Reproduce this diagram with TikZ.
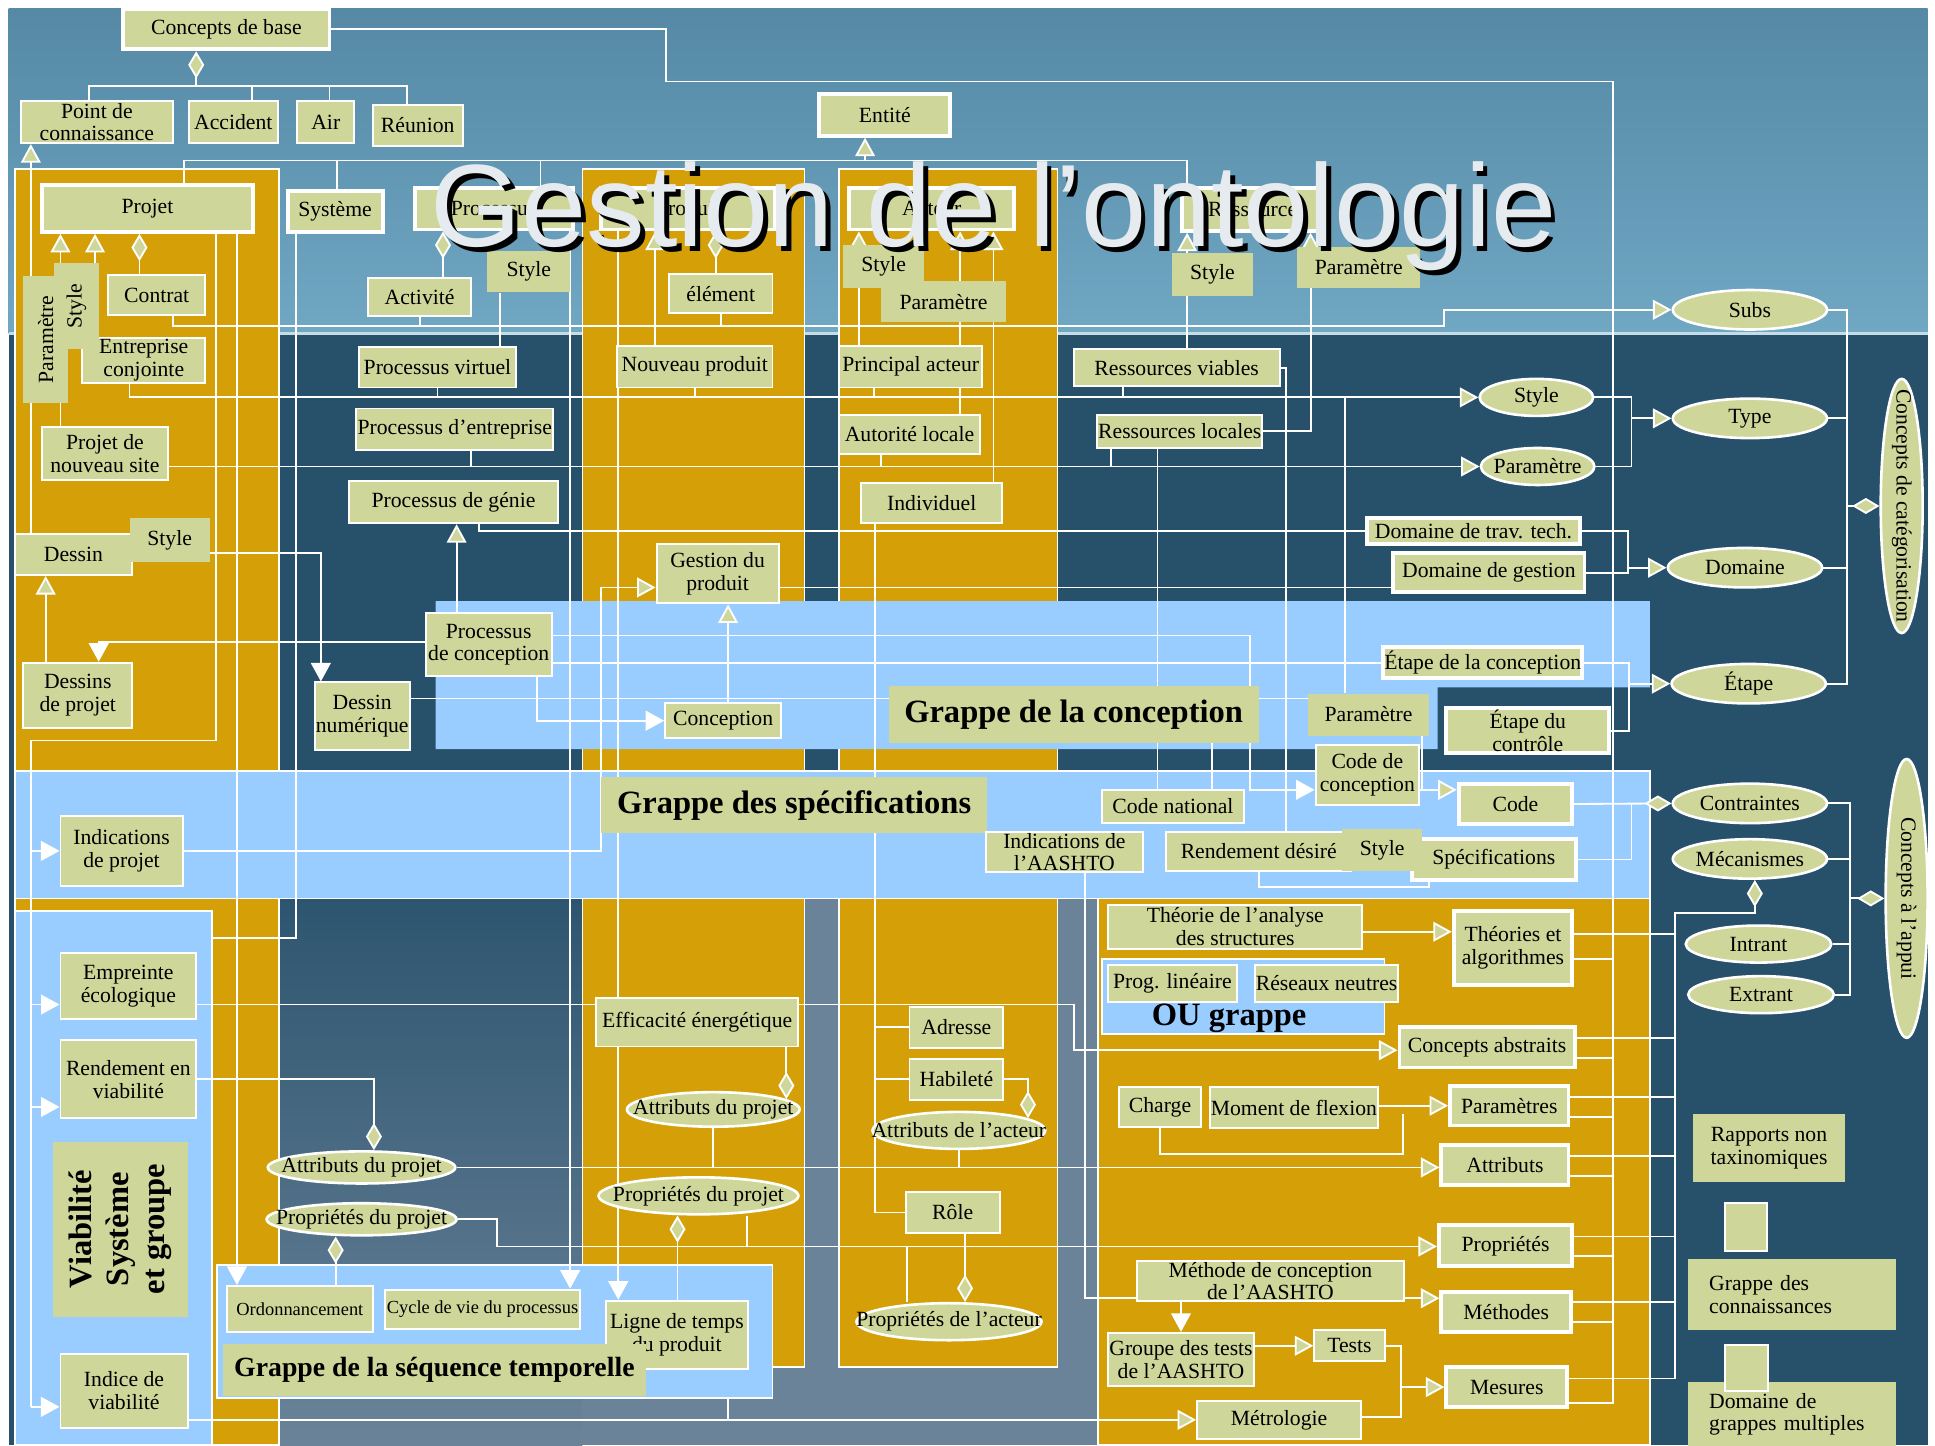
\documentclass[tikz,border=0pt]{standalone}
\usepackage{fontspec}
\setmainfont{Liberation Serif}
\newfontfamily\titlefont{Liberation Sans}
\usetikzlibrary{shapes.geometric, arrows.meta, positioning}

\definecolor{khaki}{HTML}{CFD699}
\definecolor{gold}{HTML}{D59F08}
\definecolor{lblue}{HTML}{99CCFF}
\definecolor{navy}{HTML}{27506B}
\definecolor{skytop}{HTML}{5589A6}
\definecolor{skybot}{HTML}{70A7C3}
\definecolor{steel}{HTML}{6A8399}
\definecolor{titlecol}{HTML}{E6EBEF}

\newcommand\grpfont{\fontsize{15}{17}\selectfont\bfseries}
\newcommand\seqfont{\fontsize{12.8}{15}\selectfont\bfseries}
\newcommand\ordfont{\fontsize{8.5}{9.5}\selectfont}

\pgfdeclarelayer{bg}
\pgfdeclarelayer{wires}
\pgfsetlayers{bg,wires,main}

\begin{document}
\begin{tikzpicture}[
  x=0.02cm, y=-0.02cm,
  every node/.style={font=\fontsize{10}{10.5}\selectfont, inner sep=0.5pt, align=center},
  kbox/.style={rectangle, draw=white, line width=0.9pt, fill=khaki, text=black},
  kboxw/.style={kbox, line width=1.8pt},
  kpatch/.style={rectangle, fill=khaki, text=black},
  kell/.style={ellipse, draw=white, line width=1.2pt, fill=khaki, text=black,
               inner xsep=-14pt, inner ysep=0pt},
  zone/.style={rectangle, draw=white, line width=0.8pt, fill=lblue, inner sep=0pt},
  ln/.style={draw=white, line width=0.85pt},
  inh/.style={ln, -{Triangle[length=3mm, width=3.2mm, fill=khaki]}},
  flow/.style={ln, -{Triangle[length=3mm, width=3.2mm]}},
  agg/.style={ln, {Diamond[length=4.4mm, width=2.6mm, fill=khaki]}-}
]
\useasboundingbox (0,0) rectangle (1568,1171);

% background and clusters
\begin{pgfonlayer}{bg}
\fill[white] (0,0) rectangle (1568,1171);
\shade[top color=skytop, bottom color=skybot] (7,7) rectangle (1562,270);
\fill[navy] (7,270) rectangle (1562,1171);
\draw[white!60!skybot, line width=1.2pt] (7,270) -- (1562,270);
\shade[top color=navy!90!steel, bottom color=steel] (226,728) rectangle (472,1171);
\fill[steel] (472,728) rectangle (890,1171);
\draw[white, line width=0.8pt, fill=gold] (12,137) rectangle (226,1171);
\draw[white, line width=0.8pt, fill=gold] (472,137) rectangle (652,1108);
\draw[white, line width=0.8pt, fill=gold] (680,137) rectangle (857,1108);
\draw[white, line width=0.8pt, fill=gold] (890,728) rectangle (1337,1171);
\fill[lblue] (353,487) -- (1337,487) -- (1337,557) -- (1165,557)
  -- (1165,607) -- (353,607) -- cycle;
\node[zone, minimum width=26.5cm, minimum height=2.06cm] (gspec) at (674.5,676.5) {};
\node[zone, minimum width=3.2cm, minimum height=8.66cm] (vbox) at (92,954.5) {};
\node[zone, minimum width=9cm, minimum height=2.16cm] (gseqbox) at (401,1079) {};
\node[zone, minimum width=4.58cm, minimum height=1.22cm] (oubox) at (1007.5,807.5) {};
\end{pgfonlayer}

% base concepts
\node[kboxw, minimum width=3.34cm, minimum height=0.66cm] (base) at (183.5,23.5) {Concepts de base};
\node[kbox, minimum width=2.46cm, minimum height=0.68cm] (pconn) at (78.5,99) {Point de\\connaissance};
\node[kbox, minimum width=1.44cm, minimum height=0.68cm] (accid) at (189,99) {Accident};
\node[kbox, minimum width=0.92cm, minimum height=0.68cm] (air) at (264,99) {Air};
\node[kbox, minimum width=1.46cm, minimum height=0.66cm] (reun) at (338.5,101.5) {Réunion};
\node[kboxw, minimum width=2.12cm, minimum height=0.68cm] (entite) at (717,93) {Entité};

% entities
\node[kboxw, minimum width=3.42cm, minimum height=0.76cm] (projet) at (119.5,169) {Projet};
\node[kboxw, minimum width=1.54cm, minimum height=0.66cm] (systeme) at (271.5,171.5) {Système};
\node[kboxw, minimum width=2.56cm, minimum height=0.68cm] (processus) at (400,169) {Processus};
\node[kboxw, minimum width=2.82cm, minimum height=0.68cm] (produit) at (557.5,169) {Produit};
\node[kboxw, minimum width=2.68cm, minimum height=0.68cm] (acteur) at (755,169) {Acteur};
\node[kboxw, minimum width=2.28cm, minimum height=0.70cm] (ressource) at (1015,169.5) {Ressource};

% projet column
\node[kbox, minimum width=1.58cm, minimum height=0.66cm] (contrat) at (127,239) {Contrat};
\node[kbox, minimum width=2.0cm, minimum height=0.74cm] (entconj) at (116.5,292) {Entreprise\\conjointe};
\node[kpatch, rotate=90, minimum width=2.06cm, minimum height=0.74cm] (pparam) at (37,275) {Paramètre};
\node[kpatch, rotate=90, minimum width=1.38cm, minimum height=0.74cm] (pstyle) at (62,248) {Style};
\node[kbox, minimum width=2.04cm, minimum height=0.86cm] (pnsite) at (85,367.5) {Projet de\\nouveau site};
\node[kbox, minimum width=1.9cm, minimum height=0.66cm] (dessin) at (59.5,449.5) {Dessin};
\node[kpatch, minimum width=1.3cm, minimum height=0.7cm] (dstyle) at (137.5,437.5) {Style};
\node[kbox, minimum width=1.76cm, minimum height=1.06cm] (dessproj) at (63,563.5) {Dessins\\de projet};

% processus column
\node[kbox, minimum width=1.68cm, minimum height=0.62cm] (activite) at (340,240.5) {Activité};
\node[kpatch, minimum width=1.34cm, minimum height=0.68cm] (prstyle) at (428.5,220) {Style};
\node[kbox, minimum width=2.54cm, minimum height=0.66cm] (pvirt) at (354.5,297.5) {Processus virtuel};
\node[kbox, minimum width=3.14cm, minimum height=0.68cm] (pentr) at (368.5,348) {Processus d’entreprise};
\node[kbox, minimum width=3.38cm, minimum height=0.68cm] (pgenie) at (367.5,407) {Processus de génie};
\node[kbox, minimum width=2.04cm, minimum height=1.02cm] (pconc) at (396,522.5) {Processus\\de conception};
\node[kbox, minimum width=1.54cm, minimum height=1.1cm] (dnum) at (293.5,580.5) {Dessin\\numérique};

% produit column
\node[kbox, minimum width=1.68cm, minimum height=0.64cm] (element) at (584,238) {élément};
\node[kbox, minimum width=2.52cm, minimum height=0.68cm] (nouvprod) at (563,297) {Nouveau produit};
\node[kbox, minimum width=1.98cm, minimum height=0.96cm] (gestprod) at (581.5,465) {Gestion du\\produit};
\node[kbox, minimum width=1.88cm, minimum height=0.56cm] (conception) at (586,584) {Conception};

% acteur column
\node[kpatch, minimum width=1.3cm, minimum height=0.7cm] (astyle) at (716,216) {Style};
\node[kpatch, minimum width=2.02cm, minimum height=0.66cm] (aparam) at (764.5,244.5) {Paramètre};
\node[kbox, minimum width=2.32cm, minimum height=0.68cm] (principal) at (738,297) {Principal acteur};
\node[kbox, minimum width=2.28cm, minimum height=0.64cm] (autorite) at (737,352) {Autorité locale};
\node[kbox, minimum width=2.28cm, minimum height=0.66cm] (individuel) at (755,407.5) {Individuel};

% ressource column
\node[kpatch, minimum width=1.3cm, minimum height=0.7cm] (rstyle) at (982.5,222.5) {Style};
\node[kpatch, minimum width=2.0cm, minimum height=0.66cm] (rparam) at (1101,216.5) {Paramètre};
\node[kbox, minimum width=3.34cm, minimum height=0.6cm] (rviables) at (953.5,298) {Ressources viables};
\node[kbox, minimum width=2.62cm, minimum height=0.54cm] (rlocales) at (956,349.5) {Ressources locales};

% conception cluster
\node[kpatch, font=\grpfont, minimum width=6.0cm, minimum height=0.92cm] (gconc) at (870,579) {Grappe de la conception};
\node[kboxw, minimum width=3.44cm, minimum height=0.42cm] (dtrav) at (1194,430) {Domaine de trav. tech.};
\node[kboxw, minimum width=3.1cm, minimum height=0.64cm] (dgest) at (1206.5,464) {Domaine de gestion};
\node[kboxw, minimum width=3.22cm, minimum height=0.5cm] (etconc) at (1201.5,537) {Étape de la conception};
\node[kpatch, minimum width=1.96cm, minimum height=0.68cm] (cparam) at (1109,579) {Paramètre};
\node[kboxw, minimum width=2.64cm, minimum height=0.72cm] (etctrl) at (1238,592) {Étape du\\contrôle};
\node[kbox, minimum width=1.68cm, minimum height=0.96cm] (codeconc) at (1108,628) {Code de\\conception};

% specifications cluster
\node[kpatch, font=\grpfont, minimum width=6.26cm, minimum height=0.9cm] (gspecl) at (643.5,652.5) {Grappe des spécifications};
\node[kbox, minimum width=2.3cm, minimum height=0.54cm] (codenat) at (950.5,653.5) {Code national};
\node[kboxw, minimum width=1.84cm, minimum height=0.66cm] (code) at (1228,651.5) {Code};
\node[kbox, minimum width=2.54cm, minimum height=0.62cm] (indaash) at (862.5,690.5) {Indications de\\l’AASHTO};
\node[kboxw, minimum width=2.66cm, minimum height=0.66cm] (specs) at (1210.5,696.5) {Spécifications};
\node[kbox, minimum width=3.0cm, minimum height=0.64cm] (rendes) at (1020,690) {Rendement désiré};
\node[kpatch, minimum width=1.3cm, minimum height=0.68cm] (sstyle) at (1120,689) {Style};
\node[kbox, minimum width=1.98cm, minimum height=1.14cm] (indproj) at (98.5,689.5) {Indications\\de projet};

% categories
\node[kell, minimum width=2.5cm, minimum height=0.64cm] (esubs) at (1418,251) {Subs};
\node[kell, minimum width=1.84cm, minimum height=0.6cm] (estyle) at (1245,322) {Style};
\node[kell, minimum width=2.5cm, minimum height=0.64cm] (etype) at (1418,339) {Type};
\node[kell, minimum width=1.84cm, minimum height=0.6cm] (eparam) at (1246,378) {Paramètre};
\node[kell, minimum width=2.5cm, minimum height=0.64cm] (edomaine) at (1414,460) {Domaine};
\node[kell, minimum width=2.5cm, minimum height=0.64cm] (eetape) at (1417,554) {Étape};
\node[kell, minimum width=2.5cm, minimum height=0.64cm] (econtr) at (1418,651) {Contraintes};
\node[kell, minimum width=2.5cm, minimum height=0.64cm] (emeca) at (1418,696) {Mécanismes};
\node[kell, minimum width=2.36cm, minimum height=0.6cm] (eintr) at (1425,765) {Intrant};
\node[kell, minimum width=2.36cm, minimum height=0.6cm] (eextr) at (1427,806) {Extrant};
\node[kell, rotate=-90, inner xsep=-20pt, minimum width=4.12cm, minimum height=0.68cm] (ecateg) at (1541,410) {Concepts de catégorisation};
\node[kell, rotate=-90, inner xsep=-20pt, minimum width=4.52cm, minimum height=0.68cm] (eappui) at (1545,728) {Concepts à l’appui};

% viabilite cluster
\node[kbox, minimum width=2.2cm, minimum height=1.08cm] (empreinte) at (104,799) {Empreinte\\écologique};
\node[kbox, minimum width=2.2cm, minimum height=1.26cm] (rendvia) at (104,874.5) {Rendement en\\viabilité};
\node[kpatch, font=\grpfont, rotate=90, minimum width=2.84cm, minimum height=2.18cm] (viab) at (97.5,996) {Viabilité\\Système\\et groupe};
\node[kbox, minimum width=2.06cm, minimum height=1.2cm] (indvia) at (100.5,1127) {Indice de\\viabilité};

% temporal sequence
\node[kell, minimum width=3.04cm, minimum height=0.52cm] (attproj) at (293,946) {Attributs du projet};
\node[kell, minimum width=3.08cm, minimum height=0.52cm] (propproj) at (293,988) {Propriétés du projet};
\node[kbox, font=\ordfont, minimum width=2.36cm, minimum height=0.74cm] (ordon) at (243,1060.5) {Ordonnancement};
\node[kbox, font=\ordfont, minimum width=3.16cm, minimum height=0.64cm] (cycle) at (391,1061) {Cycle de vie du processus};
\node[kbox, minimum width=2.3cm, minimum height=1.1cm] (ligne) at (548.5,1081.5) {Ligne de temps\\du produit};
\node[kpatch, font=\seqfont, minimum width=6.86cm, minimum height=0.84cm] (gseql) at (352,1110) {Grappe de la séquence temporelle};
\node[kbox, minimum width=3.28cm, minimum height=0.78cm] (effic) at (565,828.5) {Efficacité énergétique};
\node[kell, minimum width=2.8cm, minimum height=0.56cm] (attproj2) at (578,899) {Attributs du projet};
\node[kell, minimum width=3.24cm, minimum height=0.6cm] (propproj2) at (566,969) {Propriétés du projet};
\node[kbox, minimum width=1.52cm, minimum height=0.66cm] (adresse) at (775,832.5) {Adresse};
\node[kbox, minimum width=1.52cm, minimum height=0.66cm] (habilete) at (775,874.5) {Habileté};
\node[kell, minimum width=2.8cm, minimum height=0.6cm] (attact) at (777,916) {Attributs de l’acteur};
\node[kbox, minimum width=1.52cm, minimum height=0.66cm] (role) at (772,982.5) {Rôle};
\node[kell, minimum width=3.0cm, minimum height=0.6cm] (propact) at (769,1071) {Propriétés de l’acteur};

% knowledge cluster
\node[kbox, minimum width=4.12cm, minimum height=0.72cm] (theorie) at (1001,751) {Théorie de l’analyse\\des structures};
\node[kboxw, minimum width=1.92cm, minimum height=1.2cm] (theoalg) at (1226,768) {Théories et\\algorithmes};
\node[kbox, minimum width=2.08cm, minimum height=0.6cm] (proglin) at (950,797) {Prog. linéaire};
\node[kbox, minimum width=2.32cm, minimum height=0.6cm] (reseaux) at (1075,797) {Réseaux neutres};
\node[font=\grpfont, text=black] (ougr) at (996,825) {OU grappe};
\node[kboxw, minimum width=2.84cm, minimum height=0.66cm] (concabs) at (1205,848.5) {Concepts abstraits};
\node[kbox, minimum width=1.32cm, minimum height=0.64cm] (charge) at (940,897) {Charge};
\node[kbox, minimum width=2.7cm, minimum height=0.66cm] (moment) at (1048.5,897.5) {Moment de flexion};
\node[kboxw, minimum width=1.92cm, minimum height=0.64cm] (params) at (1223,896) {Paramètres};
\node[kboxw, minimum width=2.06cm, minimum height=0.64cm] (attribs) at (1219.5,944) {Attributs};
\node[kboxw, minimum width=2.16cm, minimum height=0.66cm] (props) at (1220,1009.5) {Propriétés};
\node[kbox, minimum width=4.34cm, minimum height=0.64cm] (methconc) at (1029.5,1038) {Méthode de conception\\de l’AASHTO};
\node[kboxw, minimum width=2.1cm, minimum height=0.64cm] (methodes) at (1220.5,1063) {Méthodes};
\node[kbox, minimum width=2.36cm, minimum height=0.86cm] (gtests) at (957,1101.5) {Groupe des tests\\de l’AASHTO};
\node[kbox, minimum width=1.14cm, minimum height=0.5cm] (tests) at (1093.5,1090.5) {Tests};
\node[kboxw, minimum width=1.96cm, minimum height=0.64cm] (mesures) at (1221,1124) {Mesures};
\node[kbox, minimum width=2.66cm, minimum height=0.62cm] (metro) at (1036.5,1150.5) {Métrologie};

% legend
\node[kpatch, minimum width=2.46cm, minimum height=1.1cm] (rapports) at (1433.5,930.5) {Rapports non\\taxinomiques};
\node[kbox, minimum width=0.68cm, minimum height=0.78cm] (carre1) at (1415,994.5) {};
\node[kpatch, text width=2.68cm, align=left, inner xsep=0.34cm, minimum height=1.16cm] (grcon) at (1452,1049) {Grappe des\\connaissances};
\node[kpatch, text width=2.68cm, align=left, inner xsep=0.34cm, minimum height=1.04cm] (grmult) at (1452,1146) {Domaine de\\grappes multiples};
\node[kbox, minimum width=0.7cm, minimum height=0.74cm] (carre2) at (1415.5,1108.5) {};

\begin{pgfonlayer}{wires}
% concepts de base
\draw[agg] (base.south -| 159,0) -- (159,70);
\draw[ln] (pconn.north -| 72,0) -- (72,70) -- (330,70) -- (reun.north -| 330,0);
\draw[ln] (accid.north -| 204,0) -- (204,70);
\draw[ln] (air.north -| 267,0) -- (267,70);
\draw[ln] (base.east) -| (540,66) -| (1307,1137) -- (mesures.east |- 0,1137);
% entite
\coordinate (entbus) at (701,130);
\draw[ln] (projet.north -| 149,0) -- (149,130) -- (962,130) -- (ressource.north -| 962,0);
\draw[ln] (systeme.north -| 273,0) -- (273,130);
\draw[ln] (processus.north -| 438,0) -- (438,130);
\draw[inh] (entbus) -- (entite.south -| entbus);
% projet
\draw[inh] (dessin.north -| 25,0) -- (pconn.south -| 25,0);
\draw[inh] (pnsite.north -| 49,0) -- (projet.south -| 49,0);
\draw[inh] (entconj.north -| 77,0) -- (projet.south -| 77,0);
\draw[agg] (projet.south -| 113,0) -- (contrat.north -| 113,0);
\draw[inh] (dessproj.north -| 37,0) -- (dessin.south -| 37,0);
\draw[flow] (projet.south -| 192,0) -- (ordon.north -| 192,0);
\coordinate (lbus) at (25,600);
\draw[ln] (projet.south -| 175,0) -- (175,600) -- (lbus) -- (25,1140);
\draw[flow] (lbus |- indproj.west) -- (indproj.west);
\draw[flow] (lbus |- 0,814) -- (empreinte.west |- 0,814);
\draw[flow] (lbus |- 0,897) -- (rendvia.west |- 0,897);
\draw[flow] (lbus |- 0,1140) -- (indvia.west |- 0,1140);
\draw[flow] (pconc.west |- 0,520) -| (dessproj.north -| 80,0);
\draw[flow] (dstyle.east |- 0,448) -| (dnum.north -| 260,0);
% processus
\draw[agg] (processus.south -| 359,0) -- (activite.north -| 359,0);
\draw[ln] (prstyle.south -| 405,0) -- (pvirt.north -| 405,0);
\draw[flow] (processus.south -| 462,0) -- (cycle.north -| 462,0);
\draw[inh] (pconc.north -| 370,0) -- (pgenie.south -| 370,0);
\draw[flow] (pconc.south -| 435,0) |- (conception.west);
\draw[inh] (conception.north -| 590,0) -- (gestprod.south -| 590,0);
\draw[flow] (pconc.east |- 0,515) -| (1013,640) -- (codeconc.west |- 0,640);
\draw[ln] (pconc.east |- 0,537) -- (etconc.west);
\draw[ln] (dnum.east |- 0,566) -- (cparam.west |- 0,566);
\draw[ln] (pgenie.south -| 388,0) |- (dtrav.west);
\draw[ln] (gestprod.east |- 0,476) -- (dgest.west |- 0,476);
% subs, style, parametre
\draw[inh] (contrat.south -| 140,0) -- (140,264) -| (1170,251) -- (esubs.west);
\draw[ln] (activite.south) -- (activite.south |- 0,264);
\draw[ln] (element.south) -- (element.south |- 0,264);
\draw[inh] (entconj.south -| 105,0) |- (estyle.west);
\draw[ln] (pvirt.south) -- (pvirt.south |- estyle.west);
\draw[ln] (nouvprod.south) -- (nouvprod.south |- estyle.west);
\draw[ln] (principal.south -| 708,0) -- (708,322);
\draw[ln] (rviables.south -| 910,0) -- (910,322);
\draw[inh] (pnsite.east |- eparam.west) -- (eparam.west);
\draw[ln] (pentr.south -| 382,0) -- (382,378);
\draw[ln] (autorite.south -| 714,0) -- (714,378);
\draw[ln] (rlocales.south -| 900,0) -- (900,378);
% produit
\draw[inh] (nouvprod.north -| 531,0) -- (produit.south -| 531,0);
\draw[agg] (produit.south -| 580,0) -- (element.north -| 580,0);
\draw[flow] (produit.south -| 501,0) -- (ligne.north -| 501,0);
\draw[inh] (indproj.east) -| (487,476) -- (gestprod.west |- 0,476);
% acteur
\draw[inh] (principal.north -| 696,0) -- (acteur.south -| 696,0);
\draw[inh] (autorite.north -| 778,0) -- (acteur.south -| 778,0);
\draw[inh] (individuel.north -| 805,0) -- (acteur.south -| 805,0);
\draw[ln] (individuel.south -| 709,0) |- (role.west);
\draw[ln] (individuel.south -| 709,0) |- (adresse.west);
\draw[ln] (individuel.south -| 709,0) |- (habilete.west);
\draw[agg] (attact.10) |- (habilete.east);
\draw[ln] (attact.south) -- (attact.south |- attproj.east);
\draw[agg] (propact.north -| 782,0) -- (role.south -| 782,0);
\draw[ln] (propact.north -| 735,0) -- (735,1010);
% ressource
\draw[inh] (rviables.north -| 962,0) -- (ressource.south -| 962,0);
\draw[inh] (rlocales.east) -| (ressource.south -| 1062,0);
\draw[ln] (rlocales.south -| 938,0) -- (codenat.north -| 938,0);
\draw[ln] (gconc.south -| 982,0) -- (codenat.north -| 982,0);
\draw[ln] (rviables.east) -| (rendes.north -| 1042,0);
\draw[ln] (cparam.north -| 1090,0) -- (1090,322);
% categories
\coordinate (dombus) at (1319,460);
\coordinate (etbus) at (1320,554);
\coordinate (tybus) at (1322,339);
\draw[ln] (dtrav.east) -| (1319,464) -- (dgest.east);
\draw[inh] (dombus) -- (edomaine.west);
\draw[ln] (etconc.east) -| (1320,592) -- (etctrl.east);
\draw[inh] (etbus) -- (eetape.west);
\draw[ln] (estyle.east) -| (1322,378) -- (eparam.east);
\draw[inh] (tybus) -- (etype.west);
\draw[ln] (esubs.east) -| (1497,554) -- (eetape.east);
\draw[ln] (etype.east) -- (etype.east -| 1497,0);
\draw[ln] (edomaine.east) -- (edomaine.east -| 1497,0);
\draw[agg] (ecateg.south) -- (ecateg.south -| 1497,0);
\draw[agg] (econtr.west) -- (code.east);
\draw[ln] (specs.east) -| (1322,651);
\draw[ln] (econtr.east) -| (1499,806) -- (eextr.east);
\draw[ln] (emeca.east) -- (emeca.east -| 1499,0);
\draw[ln] (eintr.east) -- (eintr.east -| 1499,0);
\draw[agg] (eappui.south) -- (eappui.south -| 1499,0);
% code
\draw[inh] (codeconc.east |- 0,640) -- (code.west |- 0,640);
\draw[ln] (cparam.south -| 1152,0) -- (1152,640);
\draw[ln] (rendes.south) -- ++(0,12) -| (specs.south -| 1158,0);
% knowledge
\draw[inh] (theorie.east |- 0,755) -- (theoalg.west |- 0,755);
\draw[inh] (empreinte.east |- 0,814) -| (870,851) -- (concabs.west |- 0,851);
\draw[ln] (indaash.south -| 879,0) |- (methconc.west |- 0,1052);
\draw[flow] (methconc.south -| 957,0) -- (gtests.north -| 957,0);
\draw[inh] (methconc.east |- 0,1052) -- (methodes.west |- 0,1052);
\draw[inh] (gtests.east |- tests.west) -- (tests.west);
\coordinate (mesbus) at (1135,1124);
\draw[ln] (tests.east) -| (1135,1148) -- (metro.east |- 0,1148);
\draw[inh] (mesbus) -- (mesures.west);
\draw[inh] (moment.east |- params.west) -- (params.west);
\draw[ln] (charge.south) -- (charge.south |- 0,935) -| (1137,903);
\draw[inh] (attproj.east) -- (attribs.west |- attproj.east);
\draw[ln] (attproj2.south) -- (attproj2.south |- attproj.east);
\draw[agg] (attproj.north -| 303,0) |- (rendvia.east);
\draw[agg] (attproj2.8) -- (effic.south -| attproj2.8);
\draw[inh] (propproj.east) -| (403,1010) -- (props.west |- 0,1010);
\draw[ln] (propproj2.south -| 605,0) -- (605,1010);
\draw[agg] (propproj.south -| 272,0) -- (ordon.north -| 272,0);
\draw[agg] (propproj2.south -| 549,0) -- (ligne.north -| 549,0);
\draw[ln] (systeme.south -| 240,0) |- (vbox.east |- 0,760);
\draw[inh] (gseqbox.south -| 590,0) |- (metro.west);
\draw[ln] (indvia.east |- metro.west) -- (metro.west -| 590,0);
% buses on the right
\coordinate (mbus) at (1357,740);
\coordinate (rbus) at (1307,66);
\draw[agg] (emeca.south -| 1422,0) -- (1422,740) -- (mbus) -- (1357,1117) -- (mesures.east |- 0,1117);
\draw[ln] (theoalg.east |- 0,757) -- (mbus |- 0,757);
\draw[ln] (concabs.east |- 0,841) -- (mbus |- 0,841);
\draw[ln] (params.east |- 0,889) -- (mbus |- 0,889);
\draw[ln] (attribs.east |- 0,937) -- (mbus |- 0,937);
\draw[ln] (props.east |- 0,1002) -- (mbus |- 0,1002);
\draw[ln] (methodes.east |- 0,1055) -- (mbus |- 0,1055);
\draw[ln] (theoalg.east |- 0,777) -- (rbus |- 0,777);
\draw[ln] (concabs.east |- 0,857) -- (rbus |- 0,857);
\draw[ln] (params.east |- 0,905) -- (rbus |- 0,905);
\draw[ln] (attribs.east |- 0,953) -- (rbus |- 0,953);
\draw[ln] (props.east |- 0,1018) -- (rbus |- 0,1018);
\draw[ln] (methodes.east |- 0,1071) -- (rbus |- 0,1071);
\end{pgfonlayer}

% title
\node[font=\titlefont\fontsize{54}{60}\selectfont, text=black, anchor=base] (titreombre) at (809,204) {Gestion de l’ontologie};
\node[font=\titlefont\fontsize{54}{60}\selectfont, text=titlecol, anchor=base] (titre) at (805,200) {Gestion de l’ontologie};
\end{tikzpicture}
\end{document}
